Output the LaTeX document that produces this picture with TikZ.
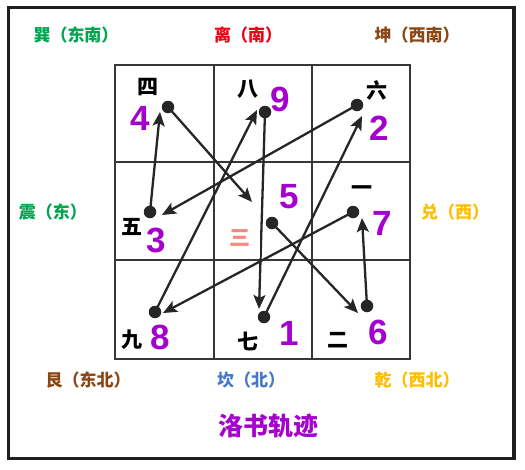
\documentclass[tikz,border=0pt]{standalone}
\usepackage{fontspec}
\setmainfont{Liberation Sans}
\newfontfamily\cjk{Noto Sans CJK SC}
\usetikzlibrary{arrows.meta}
\definecolor{purp}{RGB}{165,0,205}
\definecolor{gridc}{RGB}{55,55,55}
\definecolor{cgreen}{RGB}{0,165,80}
\definecolor{cred}{RGB}{240,0,20}
\definecolor{cbrown}{RGB}{140,70,20}
\definecolor{cblue}{RGB}{70,120,200}
\definecolor{cgold}{RGB}{255,190,0}
\definecolor{csalmon}{RGB}{250,135,125}
\tikzset{
  gridline/.style={draw=gridc, line width=2.3pt},
  dotn/.style={circle, fill=black!85, inner sep=0pt, minimum size=12.5pt},
  arr/.style={-{Stealth[length=14pt,width=12pt,inset=3pt]}, line width=2.3pt, draw=black!85, shorten <=-2pt},
  num/.style={font=\fontsize{35}{35}\selectfont\bfseries, text=purp, inner sep=0pt},
  han/.style={font=\cjk\bfseries\fontsize{21}{21}\selectfont, inner sep=0pt},
  dirl/.style={font=\cjk\bfseries\fontsize{17}{17}\selectfont, inner sep=0pt},
}
\begin{document}
\begin{tikzpicture}[x=1pt,y=-1pt]
\path[use as bounding box, fill=white] (0,0) rectangle (525,469);
% outer frame
\draw[line width=3.5pt, draw=black!88] (8.5,7.5) rectangle (514,458.5);
% grid
\draw[gridline, line width=2.8pt] (115,65) rectangle (410,359);
\draw[gridline] (214,65) -- (214,359);
\draw[gridline] (312,65) -- (312,359);
\draw[gridline] (115,162) -- (410,162);
\draw[gridline] (115,260) -- (410,260);
% dots
\node[dotn] (d1) at (264,317) {};
\node[dotn] (d2) at (357,105) {};
\node[dotn] (d3) at (150,212) {};
\node[dotn] (d4) at (168,107) {};
\node[dotn] (d5) at (272,223) {};
\node[dotn] (d6) at (367,306) {};
\node[dotn] (d7) at (353,212) {};
\node[dotn] (d8) at (155,312) {};
\node[dotn] (d9) at (265,112) {};
% arrow tips
\coordinate (t1) at (259,309);
\coordinate (t2) at (362,116);
\coordinate (t3) at (162,215);
\coordinate (t4) at (160,112);
\coordinate (t5) at (252,202);
\coordinate (t6) at (358,313);
\coordinate (t7) at (362,218);
\coordinate (t8) at (163,313);
\coordinate (t9) at (257,110);
\draw[arr] (d1.center) -- (t2);
\draw[arr] (d2.center) -- (t3);
\draw[arr] (d3.center) -- (t4);
\draw[arr] (d4.center) -- (t5);
\draw[arr] (d5.center) -- (t6);
\draw[arr] (d6.center) -- (t7);
\draw[arr] (d7.center) -- (t8);
\draw[arr] (d8.center) -- (t9);
\draw[arr] (d9.center) -- (t1);
% white patch behind centre numeral
\fill[white] (218,213) rectangle (260,258);
% purple digits
\node[num] (n1) at (289,333) {1};
\node[num] (n2) at (379,128) {2};
\node[num] (n3) at (156,240) {3};
\node[num] (n4) at (140,118) {4};
\node[num] (n5) at (289,197) {5};
\node[num] (n6) at (378,332) {6};
\node[num] (n7) at (382,223) {7};
\node[num] (n8) at (160,337) {8};
\node[num] (n9) at (280,99) {9};
% chinese numerals
\node[han] (h4) at (148,87) {四};
\node[han] (h9) at (248,89) {八};
\node[han] (h2) at (377,90) {六};
\node[han] (h3) at (132,227) {五};
\node[han, text=csalmon] (h5) at (240,238) {三};
\node[han] (h7) at (362,191) {一};
\node[han] (h8) at (132,340) {九};
\node[han] (h1) at (248,341) {七};
\node[han] (h6) at (338,340) {二};
% directions
\node[dirl, text=cgreen] (xun) at (76,35) {巽（东南）};
\node[dirl, text=cred] (li) at (248,35) {离（南）};
\node[dirl, text=cbrown] (kun) at (417,35) {坤（西南）};
\node[dirl, text=cgreen] (zhen) at (53,212) {震（东）};
\node[dirl, text=cgold] (dui) at (455,212) {兑（西）};
\node[dirl, text=cbrown] (gen) at (88,380) {艮（东北）};
\node[dirl, text=cblue] (kan) at (251,380) {坎（北）};
\node[dirl, text=cgold] (qian) at (417,380) {乾（西北）};
% title
\node[font=\cjk\bfseries\fontsize{25}{25}\selectfont, text=purp, inner sep=0pt] (title) at (268,426) {洛书轨迹};
\end{tikzpicture}
\end{document}
